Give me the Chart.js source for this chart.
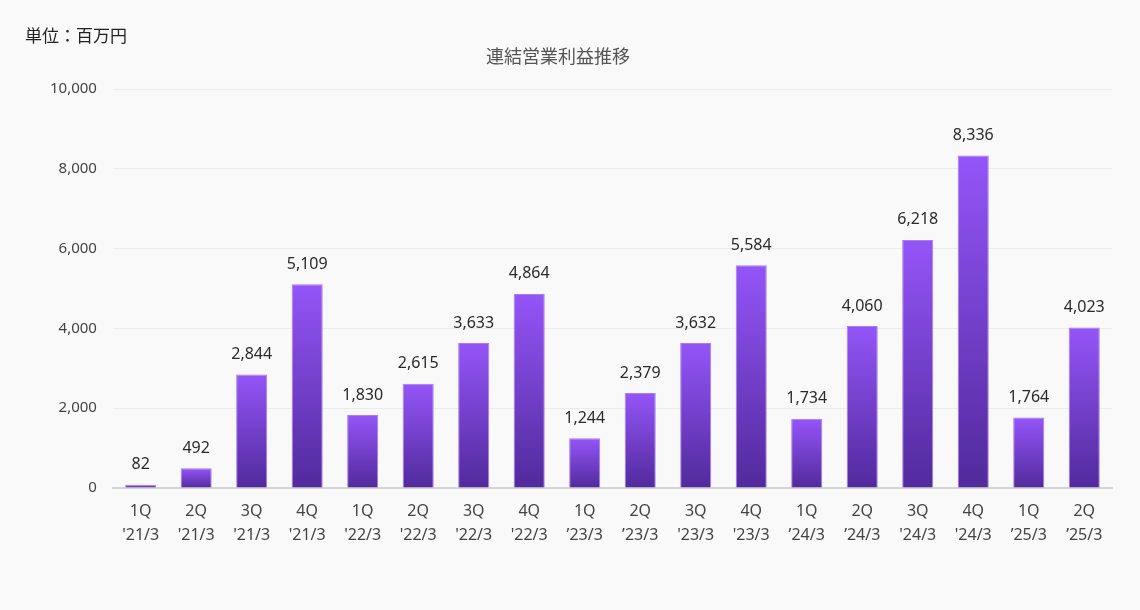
<!DOCTYPE html>
<html>
<head>
<meta charset="utf-8">
<script src="https://cdn.jsdelivr.net/npm/chart.js@4/dist/chart.umd.min.js"></script>
<style>
  html, body { margin: 0; padding: 0; background: #f9f9f9; }
  #wrap { position: relative; width: 1140px; height: 610px; }
  #unit { position: absolute; left: 25px; top: 22px; font: 17px "Noto Sans CJK JP", sans-serif; color: #222; }
  #title { position: absolute; left: 458px; width: 200px; top: 42px; text-align: center;
           font: 18px "Noto Sans CJK JP", sans-serif; color: #555; }
</style>
</head>
<body>
<div id="wrap">
  <div id="unit">単位：百万円</div>
  <div id="title">連結営業利益推移</div>
  <canvas id="opChart" width="1140" height="610"></canvas>
</div>
<script>
const quarters = ['1Q', '2Q', '3Q', '4Q', '1Q', '2Q', '3Q', '4Q', '1Q', '2Q', '3Q', '4Q', '1Q', '2Q', '3Q', '4Q', '1Q', '2Q'];
const fiscalYears = ["'21/3", "'21/3", "'21/3", "'21/3", "'22/3", "'22/3", "'22/3", "'22/3",
    '\u201923/3', '\u201923/3', "'23/3", "'23/3", '\u201924/3', '\u201924/3', "'24/3", "'24/3", '\u201925/3', '\u201925/3'];
const operatingProfit = [82, 492, 2844, 5109, 1830, 2615, 3633, 4864, 1244, 2379, 3632, 5584, 1734, 4060, 6218, 8336, 1764, 4023];
const yTicks = [0, 2000, 4000, 6000, 8000, 10000];

const FONT = '"Noto Sans", "Noto Sans CJK JP", sans-serif';

// per-bar vertical gradient (bright top, dark bottom)
function barGradient(ctx) {
    const chart = ctx.chart;
    const area = chart.chartArea;
    if (!area || ctx.dataIndex === undefined) return '#7b45e0';
    const y = chart.scales.y;
    const top = y.getPixelForValue(ctx.raw);
    const bottom = y.getPixelForValue(0);
    const g = chart.ctx.createLinearGradient(0, top, 0, bottom === top ? top + 1 : bottom);
    g.addColorStop(0, '#9455f8');
    g.addColorStop(1, '#512a9c');
    return g;
}

// value labels above bars
const valueLabels = {
    id: 'valueLabels',
    afterDatasetsDraw(chart) {
        const ctx = chart.ctx;
        const meta = chart.getDatasetMeta(0);
        ctx.save();
        ctx.font = '16px ' + FONT;
        ctx.fillStyle = '#2a2a2a';
        ctx.textAlign = 'center';
        ctx.textBaseline = 'bottom';
        meta.data.forEach((bar, i) => {
            ctx.fillText(operatingProfit[i].toLocaleString('en-US'), bar.x, bar.y - 12);
        });
        ctx.restore();
    }
};

new Chart(document.getElementById('opChart'), {
    type: 'bar',
    data: {
        labels: quarters.map((q, i) => [q, fiscalYears[i]]),
        datasets: [{
            data: operatingProfit,
            backgroundColor: barGradient,
            borderColor: '#a77cf5',
            borderWidth: { top: 1, left: 1, right: 1, bottom: 0 },
            categoryPercentage: 1,
            barPercentage: 0.56
        }]
    },
    options: {
        responsive: false,
        animation: false,
        layout: { padding: { left: 34, right: 28, top: 89, bottom: 60 } },
        plugins: {
            legend: { display: false },
            tooltip: { enabled: false }
        },
        scales: {
            x: {
                grid: { display: false },
                border: { color: '#d4d4d4', width: 2 },
                ticks: { color: '#444', font: { family: FONT, size: 16, lineHeight: 1.5 }, padding: 3, maxRotation: 0, autoSkip: false }
            },
            y: {
                min: 0,
                max: 10000,
                afterBuildTicks(axis) { axis.ticks = yTicks.map(v => ({ value: v })); },
                grid: { color: '#ebebeb', drawTicks: false },
                border: { display: false },
                ticks: {
                    color: '#444',
                    font: { family: FONT, size: 15 },
                    padding: 16,
                    callback: v => v.toLocaleString('en-US')
                }
            }
        }
    },
    plugins: [valueLabels]
});
</script>
</body>
</html>
